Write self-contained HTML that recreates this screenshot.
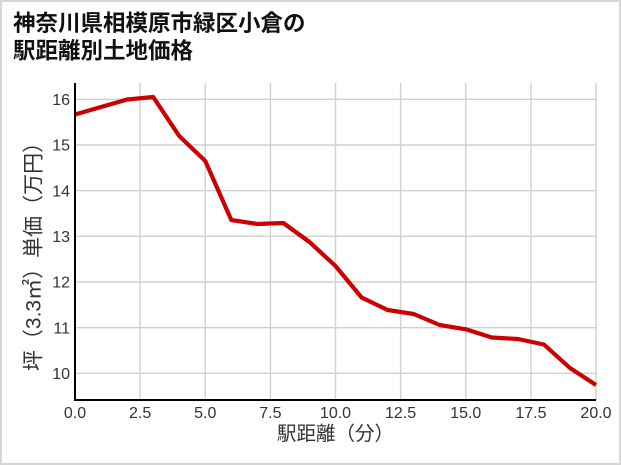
<!DOCTYPE html>
<html><head><meta charset="utf-8">
<style>
html,body{margin:0;padding:0;background:#fff;}
body{width:621px;height:465px;overflow:hidden;}
svg{display:block;}
</style></head>
<body>
<svg width="621" height="465" viewBox="0 0 621 465" xmlns="http://www.w3.org/2000/svg">
<rect x="1" y="1" width="619" height="463" fill="#fff" stroke="#d6d6d6" stroke-width="2"/>
<g font-family="'Liberation Sans','Noto Sans CJK JP',sans-serif" font-weight="bold" font-size="22.5" fill="#111">
<text x="13" y="31">神奈川県相模原市緑区小倉の</text>
<text x="13" y="58.5">駅距離別土地価格</text>
</g>
<g stroke="#d0d0d0" stroke-width="1.4">
<line x1="140.1" y1="83" x2="140.1" y2="400"/>
<line x1="205.25" y1="83" x2="205.25" y2="400"/>
<line x1="270.4" y1="83" x2="270.4" y2="400"/>
<line x1="335.5" y1="83" x2="335.5" y2="400"/>
<line x1="400.6" y1="83" x2="400.6" y2="400"/>
<line x1="465.75" y1="83" x2="465.75" y2="400"/>
<line x1="530.9" y1="83" x2="530.9" y2="400"/>
<line x1="596" y1="83" x2="596" y2="400"/>
<line x1="75" y1="373.3" x2="596" y2="373.3"/>
<line x1="75" y1="327.7" x2="596" y2="327.7"/>
<line x1="75" y1="282" x2="596" y2="282"/>
<line x1="75" y1="236.3" x2="596" y2="236.3"/>
<line x1="75" y1="190.7" x2="596" y2="190.7"/>
<line x1="75" y1="145" x2="596" y2="145"/>
<line x1="75" y1="99.3" x2="596" y2="99.3"/>
</g>
<polyline fill="none" stroke="#cc0000" stroke-width="4.2" stroke-linejoin="round"
points="75,114.5 101,107 127.1,99.5 153.2,97 179.2,136 205.3,161 231.3,220 257.4,224 283.4,223 309.5,242 335.5,266 361.6,297.5 387.6,310 413.7,314 439.7,325 465.8,329.3 491.8,337.5 517.9,339 543.9,344.5 570,368 596,385"/>
<line x1="75" y1="83" x2="75" y2="401" stroke="#000" stroke-width="2"/>
<line x1="74" y1="400" x2="596" y2="400" stroke="#000" stroke-width="2"/>
<g font-family="'Liberation Sans',sans-serif" font-size="16" fill="#333" text-anchor="end">
<text x="70" y="379">10</text>
<text x="70" y="333.4">11</text>
<text x="70" y="287.7">12</text>
<text x="70" y="242">13</text>
<text x="70" y="196.4">14</text>
<text x="70" y="150.7">15</text>
<text x="70" y="105">16</text>
</g>
<g font-family="'Liberation Sans',sans-serif" font-size="16" fill="#333" text-anchor="middle">
<text x="75" y="418">0.0</text>
<text x="140.1" y="418">2.5</text>
<text x="205.25" y="418">5.0</text>
<text x="270.4" y="418">7.5</text>
<text x="335.5" y="418">10.0</text>
<text x="400.6" y="418">12.5</text>
<text x="465.75" y="418">15.0</text>
<text x="530.9" y="418">17.5</text>
<text x="596" y="418">20.0</text>
</g>
<text x="335.5" y="440" font-family="'Liberation Sans','Noto Sans CJK JP',sans-serif" font-size="19.5" fill="#333" text-anchor="middle">駅距離（分）</text>
<text transform="translate(34,251.5) rotate(-90)" x="0" y="0" dominant-baseline="central" font-family="'Liberation Sans','Noto Sans CJK JP',sans-serif" font-size="21" fill="#333" text-anchor="middle">坪（3.3㎡）単価（万円）</text>
</svg>
</body></html>
